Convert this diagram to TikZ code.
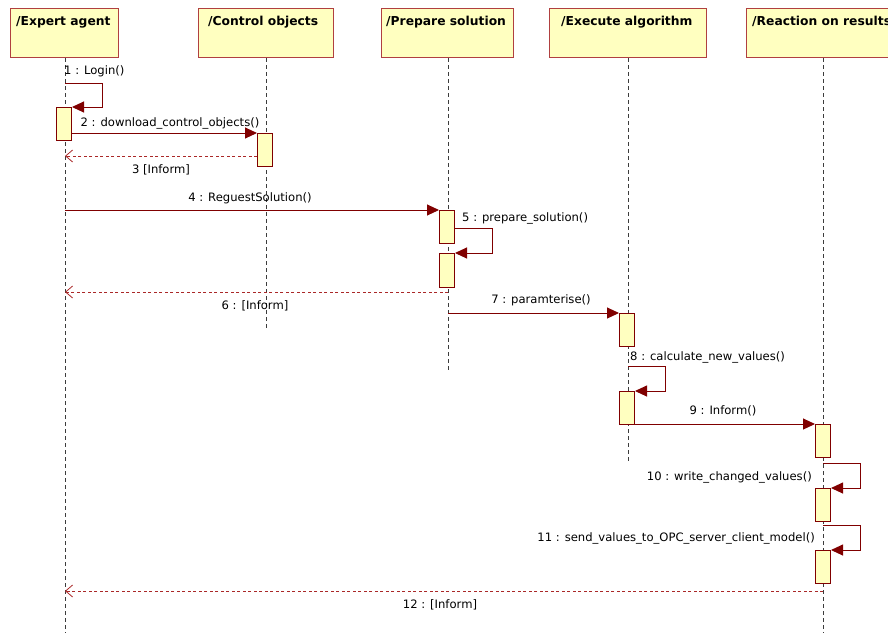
\documentclass[tikz,border=0pt]{standalone}
\usepackage{fontspec}
\setmainfont{DejaVu Sans}
\usetikzlibrary{arrows.meta}
\definecolor{hdrfill}{RGB}{255,255,192}
\definecolor{hdrdraw}{RGB}{176,64,64}
\definecolor{msgcol}{RGB}{128,0,0}
\definecolor{retcol}{RGB}{170,40,40}
\definecolor{lifecol}{RGB}{60,60,60}
\tikzset{
  hdr/.style={draw=hdrdraw, fill=hdrfill, line width=1.2pt, minimum height=49pt, inner sep=0pt},
  hdrtext/.style={anchor=north west, inner sep=0pt, font=\fontsize{12.3}{14}\selectfont\bfseries},
  act/.style={draw=msgcol, fill=hdrfill, line width=1pt, minimum width=15pt, inner sep=0pt},
  lifeline/.style={draw=lifecol, dash pattern=on 4pt off 3pt, line width=0.8pt},
  msg/.style={draw=msgcol, line width=1pt, -{Triangle[length=12pt,width=11pt]}},
  ret/.style={draw=retcol, line width=0.9pt, dash pattern=on 3pt off 2.5pt, -{Straight Barb[length=7pt,width=12pt,line width=0.8pt]}},
  lbl/.style={inner sep=0pt, font=\fontsize{11.6}{13}\selectfont},
}
\begin{document}
\begin{tikzpicture}[x=1pt,y=-1pt]
\useasboundingbox (0,0) rectangle (888,633);
\clip (0,0) rectangle (888,633);
\fill[white] (0,0) rectangle (888,633);
% headers
\node[hdr, minimum width=108pt, anchor=north west] (h1) at (10,8) {};
\node[hdr, minimum width=135pt, anchor=north west] (h2) at (198,8) {};
\node[hdr, minimum width=132pt, anchor=north west] (h3) at (381,8) {};
\node[hdr, minimum width=157pt, anchor=north west] (h4) at (549,8) {};
\node[hdr, minimum width=160pt, anchor=north west] (h5) at (746,8) {};
\node[hdrtext] (t1) at (16,16) {/Expert agent};
\node[hdrtext] (t2) at (208,16) {/Control objects};
\node[hdrtext] (t3) at (386,16) {/Prepare solution};
\node[hdrtext] (t4) at (561,16) {/Execute algorithm};
\node[hdrtext] (t5) at (752,16) {/Reaction on results};
% lifeline ends
\coordinate (e1) at (65,633);
\coordinate (e2) at (266,330);
\coordinate (e3) at (448,372);
\coordinate (e4) at (628,462);
\coordinate (e5) at (823,633);
\draw[lifeline] (h1.south -| e1) -- (e1);
\draw[lifeline] (h2.south -| e2) -- (e2);
\draw[lifeline] (h3.south -| e3) -- (e3);
\draw[lifeline] (h4.south -| e4) -- (e4);
\draw[lifeline] (h5.south -| e5) -- (e5);
% activations
\node[act, minimum height=33pt, anchor=north] (a1) at (64,107) {};
\node[act, minimum height=33pt, anchor=north] (a2) at (265,133) {};
\node[act, minimum height=33pt, anchor=north] (a3) at (447,210) {};
\node[act, minimum height=34pt, anchor=north] (a4) at (447,253) {};
\node[act, minimum height=33pt, anchor=north] (a5) at (627,313) {};
\node[act, minimum height=33pt, anchor=north] (a6) at (627,391) {};
\node[act, minimum height=33pt, anchor=north] (a7) at (823,424) {};
\node[act, minimum height=33pt, anchor=north] (a8) at (823,488) {};
\node[act, minimum height=33pt, anchor=north] (a9) at (823,550) {};
% coordinates
\coordinate (s1) at (65,83);
\coordinate (r3) at (65,156);
\coordinate (m4) at (65,210);
\coordinate (r6) at (65,292);
\coordinate (s6) at (448,292);
\coordinate (m7) at (448,313);
\coordinate (s8) at (628,366);
\coordinate (s10) at (823,463);
\coordinate (s11) at (823,525);
\coordinate (s12) at (823,591);
\coordinate (r12) at (65,591);
% messages
\draw[msg] (s1) -- (102,83) -- (102,107) -- (a1.north east);
\draw[msg] (a1.east |- a2.north west) -- (a2.north west);
\draw[ret] (a2.west |- r3) -- (r3);
\draw[msg] (m4) -- (a3.north west);
\draw[msg] (a3.east |- 0,228) -- (492,228) -- (492,253) -- (a4.north east);
\draw[ret] (s6) -- (r6);
\draw[msg] (m7) -- (a5.north west);
\draw[msg] (s8) -- (665,366) -- (665,391) -- (a6.north east);
\draw[msg] (a6.east |- a7.north west) -- (a7.north west);
\draw[msg] (s10) -- (860,463) -- (860,488) -- (a8.north east);
\draw[msg] (s11) -- (860,525) -- (860,550) -- (a9.north east);
\draw[ret] (s12) -- (r12);
% labels
\node[lbl, anchor=west] (l1) at (64,71) {1 : Login()};
\node[lbl] (l2) at (170,123) {2 : download\_control\_objects()};
\node[lbl] (l3) at (161,170) {3 [Inform]};
\node[lbl] (l4) at (250,198) {4 : ReguestSolution()};
\node[lbl, anchor=west] (l5) at (462,218) {5 : prepare\_solution()};
\node[lbl] (l6) at (255,306) {6 : [Inform]};
\node[lbl] (l7) at (541,300) {7 : paramterise()};
\node[lbl, anchor=west] (l8) at (630,357) {8 : calculate\_new\_values()};
\node[lbl] (l9) at (723,411) {9 : Inform()};
\node[lbl, anchor=east] (l10) at (812,477) {10 : write\_changed\_values()};
\node[lbl, anchor=east] (l11) at (815,538) {11 : send\_values\_to\_OPC\_server\_client\_model()};
\node[lbl] (l12) at (440,605) {12 : [Inform]};
\end{tikzpicture}
\end{document}
